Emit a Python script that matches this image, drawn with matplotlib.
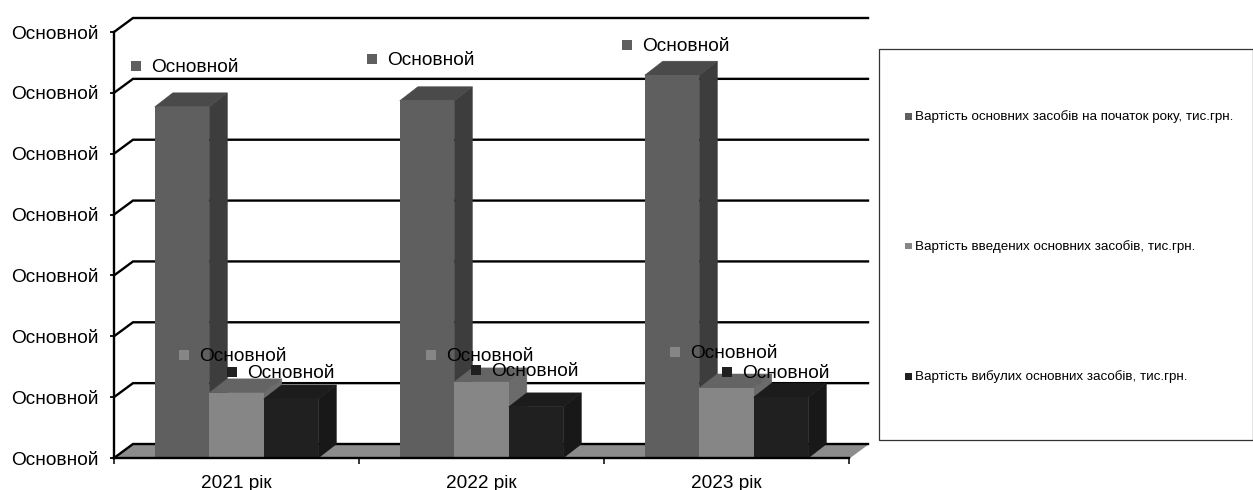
import matplotlib
matplotlib.use('Agg')
import matplotlib.pyplot as plt
from matplotlib.patches import Rectangle

plt.rcParams['font.family'] = ['Liberation Sans', 'DejaVu Sans']

years = ['2021 рік', '2022 рік', '2023 рік']
start_cost = [5.77, 5.87, 6.29]
added_cost = [1.07, 1.25, 1.15]
removed_cost = [0.97, 0.84, 1.00]
series_names = [
    'Вартість основних засобів на початок року, тис.грн.',
    'Вартість введених основних засобів, тис.грн.',
    'Вартість вибулих основних засобів, тис.грн.',
]
value_label = 'Основной'
y_ticks = [0, 1, 2, 3, 4, 5, 6, 7]

W, H = 1253, 490
LEFT, RIGHT, TOP, BOTTOM = 114, 849, 32, 458  # plot front plane, px
DEPTH_X, DEPTH_Y = 19, 14
BAR_PX = 54.5
LABEL_SIZE = 13.7

# front, side, top shades per series
shades = [
    ('#5f5f5f', '#3d3d3d', '#4a4a4a'),
    ('#868686', '#6b6b6b', '#646464'),
    ('#202020', '#181818', '#1c1c1c'),
]
# marker centres of the floating labels, px
label_px = [
    [(136, 66), (372, 59), (627, 45)],
    [(184, 355), (431, 355), (675, 352)],
    [(232, 372), (476, 370), (727, 372)],
]
legend_y = [116, 246, 376]

fig = plt.figure(figsize=(W / 100, H / 100), dpi=100, facecolor='white')
ax = fig.add_axes([LEFT / W, 1 - BOTTOM / H, (RIGHT - LEFT) / W, (BOTTOM - TOP) / H])
ax.set_xlim(-0.5, 2.5)
ax.set_ylim(0, 7)
ax.patch.set_visible(False)

dx = DEPTH_X * 3 / (RIGHT - LEFT)
dy = DEPTH_Y * 7 / (BOTTOM - TOP)
bar_w = BAR_PX * 3 / (RIGHT - LEFT)


def px(x, y):
    return -0.5 + (x - LEFT) * 3 / (RIGHT - LEFT), (BOTTOM - y) * 7 / (BOTTOM - TOP)


# floor
ax.fill([-0.5, -0.5 + dx, 2.5 + dx, 2.5], [0, dy, dy, 0], color='#8c8c8c', zorder=1, clip_on=False)

# back wall lines
for t in y_ticks:
    ax.plot([-0.5, -0.5 + dx, 2.5 + dx], [t, t + dy, t + dy], color='black', lw=1.7,
            zorder=1.5, clip_on=False, solid_joinstyle='miter')

# bars
for s, values in enumerate([start_cost, added_cost, removed_cost]):
    front, side, top = shades[s]
    for i, v in enumerate(values):
        x0 = i + (s - 1.5) * bar_w
        x1 = x0 + bar_w
        z = 3 + i + s * 0.1
        ax.fill([x1, x1 + dx * 0.95, x1 + dx * 0.95, x1], [0, dy, v + dy, v], fc=side, ec=side, lw=0.4, zorder=z, clip_on=False)
        ax.fill([x0, x0 + dx * 0.95, x1 + dx * 0.95, x1], [v, v + dy, v + dy, v], fc=top, ec=top, lw=0.4, zorder=z, clip_on=False)
        ax.bar(x0, v, bar_w, align='edge', color=front, lw=0, zorder=z)

        mx, my = px(*label_px[s][i])
        ax.plot(mx, my, 's', ms=7.2, color=front, mew=0, zorder=10, clip_on=False)
        tx, ty = px(label_px[s][i][0] + 15, label_px[s][i][1] + 1)
        ax.text(tx, ty, value_label, fontsize=LABEL_SIZE, color='black', va='center', ha='left', zorder=11)

for side in ['top', 'right']:
    ax.spines[side].set_visible(False)
for side in ['left', 'bottom']:
    ax.spines[side].set_linewidth(1.7)
    ax.spines[side].set_zorder(9)

ax.set_yticks(y_ticks)
ax.set_yticklabels([value_label] * len(y_ticks), fontsize=LABEL_SIZE)
ax.set_xticks([-0.5, 0.5, 1.5, 2.5])
ax.set_xticklabels([])
ax.set_xticks([0, 1, 2], minor=True)
ax.set_xticklabels(years, minor=True, fontsize=LABEL_SIZE)
ax.tick_params(axis='x', which='minor', length=0, pad=12.5)
ax.tick_params(axis='x', which='major', length=4, width=1.1)
ax.tick_params(axis='y', length=3, width=1.3, pad=8)

# legend panel
fig.add_artist(Rectangle((879 / W, 1 - 440 / H), 373.5 / W, 391 / H, transform=fig.transFigure,
                         fc='white', ec='#333333', lw=0.9))
for y, name, shade in zip(legend_y, series_names, shades):
    fig.add_artist(Rectangle((905 / W, 1 - (y + 3.5) / H), 7 / W, 7 / H, transform=fig.transFigure,
                             fc=shade[0], ec='none'))
    fig.text(915 / W, 1 - (y + 1) / H, name, fontsize=9.65, color='black', va='center', ha='left')

fig.savefig('out.png', dpi=100, facecolor='white')
